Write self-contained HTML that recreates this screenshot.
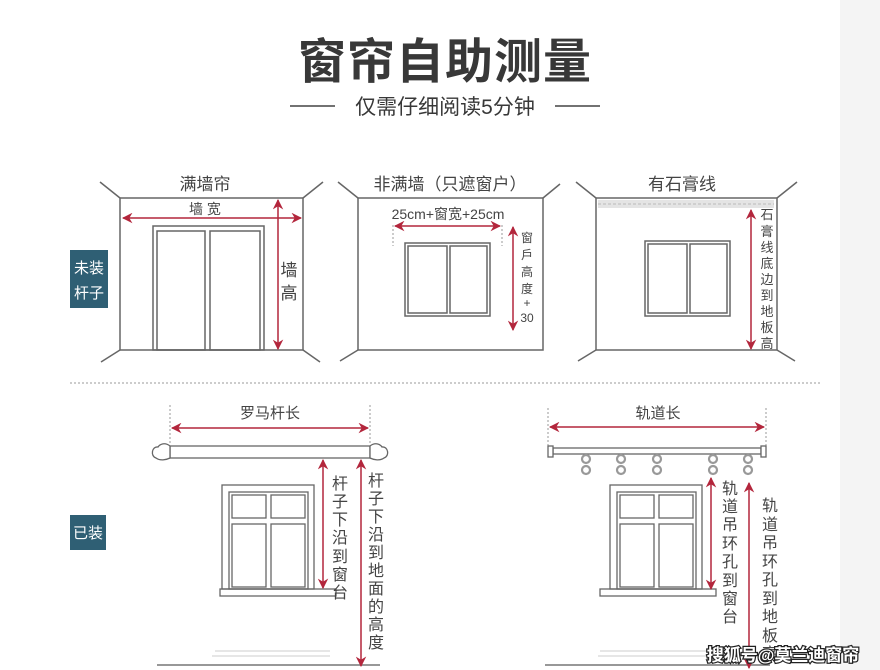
<!DOCTYPE html>
<html><head><meta charset="utf-8"><style>
html,body{margin:0;padding:0;background:#fff;}
svg{display:block;font-family:"Liberation Sans","Noto Sans CJK SC",sans-serif;}
</style></head><body>
<svg width="880" height="670" viewBox="0 0 880 670" xmlns="http://www.w3.org/2000/svg">
<defs>
<marker id="ah" viewBox="0 0 10 10" refX="9" refY="5" markerWidth="7" markerHeight="7" orient="auto-start-reverse"><path d="M0,0 L10,5 L0,10 L3,5 z" fill="#b3263c"/></marker>
</defs>
<rect x="0" y="0" width="880" height="670" fill="#fff"/>
<rect x="840" y="0" width="40" height="670" fill="#f4f4f4"/>

<!-- title -->
<text x="445" y="78" font-size="48" font-weight="bold" fill="#383838" text-anchor="middle" letter-spacing="1">窗帘自助测量</text>
<line x1="290" y1="106" x2="335" y2="106" stroke="#444" stroke-width="1.5"/>
<line x1="555" y1="106" x2="600" y2="106" stroke="#444" stroke-width="1.5"/>
<text x="445" y="114" font-size="21" fill="#383838" text-anchor="middle">仅需仔细阅读5分钟</text>

<g stroke="#666" stroke-width="1.5" fill="none">
<!-- panel 1 -->
<rect x="120" y="198" width="183" height="152"/>
<line x1="100" y1="182" x2="120" y2="198"/><line x1="303" y1="198" x2="323" y2="182"/>
<line x1="120" y1="350" x2="101" y2="362"/><line x1="303" y1="350" x2="320" y2="362"/>
<rect x="153" y="226" width="111" height="124"/>
<rect x="157" y="231" width="48" height="119"/>
<rect x="210" y="231" width="50" height="119"/>
<!-- panel 2 -->
<rect x="358" y="198" width="185" height="152"/>
<line x1="338" y1="182" x2="358" y2="198"/><line x1="543" y1="198" x2="560" y2="184"/>
<line x1="358" y1="350" x2="340" y2="361"/>
<rect x="405" y="243" width="85" height="73"/>
<rect x="408" y="246" width="39" height="67"/>
<rect x="450" y="246" width="37" height="67"/>
<!-- panel 3 -->
<rect x="596" y="198" width="181" height="152"/>
<line x1="576" y1="182" x2="596" y2="198"/><line x1="777" y1="198" x2="797" y2="182"/>
<line x1="596" y1="350" x2="578" y2="361"/><line x1="777" y1="350" x2="795" y2="361"/>
<rect x="645" y="241" width="85" height="75"/>
<rect x="648" y="244" width="39" height="69"/>
<rect x="690" y="244" width="37" height="69"/>
</g>
<rect x="598" y="200" width="176" height="8" fill="#e4e4e4"/>
<line x1="598" y1="204" x2="774" y2="204" stroke="#c8c8c8" stroke-width="1.5" stroke-dasharray="3,2"/>

<!-- labels top -->
<g font-size="17" fill="#444" text-anchor="middle">
<text x="205" y="190">满墙帘</text>
<text x="450" y="190">非满墙（只遮窗户）</text>
<text x="682" y="190">有石膏线</text>
</g>
<text x="205" y="214" font-size="14" fill="#444" text-anchor="middle">墙 宽</text>
<text x="448" y="219" font-size="14" fill="#444" text-anchor="middle">25cm+窗宽+25cm</text>
<g font-size="17" fill="#444" text-anchor="middle"><text x="289" y="276">墙</text><text x="289" y="299">高</text></g>
<g font-size="12" fill="#444" text-anchor="middle">
<text x="527" y="242">窗</text><text x="527" y="259">戶</text><text x="527" y="276">高</text><text x="527" y="293">度</text><text x="527" y="307">+</text><text x="527" y="322">30</text>
</g>
<g font-size="13" fill="#444" text-anchor="middle">
<text x="767" y="219">石</text><text x="767" y="236">膏</text><text x="767" y="252">线</text><text x="767" y="268">底</text><text x="767" y="284">边</text><text x="767" y="300">到</text><text x="767" y="316">地</text><text x="767" y="332">板</text><text x="767" y="348">高</text>
</g>
<g stroke="#999" stroke-width="1" stroke-dasharray="2,2">
<line x1="393" y1="225" x2="393" y2="246"/><line x1="502" y1="225" x2="502" y2="246"/>
</g>

<!-- red arrows top -->
<g stroke="#b3263c" stroke-width="1.5" marker-start="url(#ah)" marker-end="url(#ah)">
<line x1="123" y1="218" x2="301" y2="218"/>
<line x1="278" y1="200" x2="278" y2="349"/>
<line x1="395" y1="226" x2="500" y2="226"/>
<line x1="513" y1="227" x2="513" y2="330"/>
<line x1="751" y1="210" x2="751" y2="349"/>
</g>

<!-- side boxes -->
<rect x="70" y="250" width="38" height="58" fill="#2f5f74"/>
<text x="89" y="273" font-size="15" fill="#fff" text-anchor="middle">未装</text>
<text x="89" y="298" font-size="15" fill="#fff" text-anchor="middle">杆子</text>
<rect x="70" y="515" width="36" height="35" fill="#2f5f74"/>
<text x="88" y="538" font-size="15" fill="#fff" text-anchor="middle">已装</text>

<!-- separator -->
<line x1="70" y1="383" x2="820" y2="383" stroke="#bbb" stroke-width="1.5" stroke-dasharray="2,2"/>

<!-- bottom left -->
<g stroke="#999" stroke-width="1" stroke-dasharray="2,2">
<line x1="170" y1="405" x2="170" y2="445"/><line x1="370" y1="405" x2="370" y2="445"/>
<line x1="548" y1="408" x2="548" y2="446"/><line x1="766" y1="408" x2="766" y2="446"/>
</g>
<text x="270" y="418" font-size="15" fill="#444" text-anchor="middle">罗马杆长</text>
<text x="658" y="418" font-size="15" fill="#444" text-anchor="middle">轨道长</text>

<g stroke="#666" stroke-width="1.3" fill="none">
<rect x="170" y="446" width="200" height="12" fill="#fff"/>
<path d="M170,446 C165,442 160,444 158,447 C152,446 150,456 156,458 C160,461 166,460 170,458 Z" fill="#fff"/>
<path d="M370,446 C375,442 380,444 382,447 C388,446 390,456 384,458 C380,461 374,460 370,458 Z" fill="#fff"/>
<!-- windows -->
<g id="win">
<rect x="610" y="485" width="92" height="104"/>
<rect x="617" y="492" width="79" height="97"/>
<rect x="620" y="495" width="34" height="23"/>
<rect x="659" y="495" width="34" height="23"/>
<rect x="620" y="524" width="34" height="63"/>
<rect x="659" y="524" width="34" height="63"/>
<rect x="600" y="589" width="116" height="7"/>
</g>
<g transform="translate(-388,0)">
<rect x="610" y="485" width="92" height="104"/>
<rect x="617" y="492" width="79" height="97"/>
<rect x="620" y="495" width="34" height="23"/>
<rect x="659" y="495" width="34" height="23"/>
<rect x="620" y="524" width="34" height="63"/>
<rect x="659" y="524" width="34" height="63"/>
<rect x="608" y="589" width="116" height="7"/>
</g>
<!-- track -->
<rect x="553" y="448" width="208" height="6" fill="#fff"/>
<rect x="548" y="446" width="5" height="11" fill="#fff"/>
<rect x="761" y="446" width="5" height="11" fill="#fff"/>
</g>
<g stroke="#999" stroke-width="2.2" fill="none">
<circle cx="586" cy="459" r="4"/><circle cx="586" cy="470" r="4"/>
<circle cx="621" cy="459" r="4"/><circle cx="621" cy="470" r="4"/>
<circle cx="657" cy="459" r="4"/><circle cx="657" cy="470" r="4"/>
<circle cx="713" cy="459" r="4"/><circle cx="713" cy="470" r="4"/>
<circle cx="748" cy="459" r="4"/><circle cx="748" cy="470" r="4"/>
</g>
<!-- floors -->
<line x1="157" y1="665" x2="380" y2="665" stroke="#777" stroke-width="1.5"/>
<line x1="545" y1="665" x2="770" y2="665" stroke="#777" stroke-width="1.5"/>
<g stroke="#ddd" stroke-width="1.5" fill="none">
<line x1="215" y1="651" x2="330" y2="651"/><line x1="212" y1="656" x2="330" y2="656"/>
<line x1="600" y1="651" x2="715" y2="651"/><line x1="598" y1="656" x2="715" y2="656"/>
</g>

<g stroke="#b3263c" stroke-width="1.5" marker-start="url(#ah)" marker-end="url(#ah)">
<line x1="172" y1="428" x2="368" y2="428"/>
<line x1="550" y1="427" x2="764" y2="427"/>
<line x1="323" y1="460" x2="323" y2="588"/>
<line x1="361" y1="460" x2="361" y2="666"/>
<line x1="711" y1="478" x2="711" y2="589"/>
<line x1="749" y1="483" x2="749" y2="668"/>
</g>

<g font-size="16" fill="#444" text-anchor="middle">
<text x="340" y="489">杆</text><text x="340" y="507">子</text><text x="340" y="525">下</text><text x="340" y="543">沿</text><text x="340" y="562">到</text><text x="340" y="580">窗</text><text x="340" y="598">台</text>
<text x="376" y="486">杆</text><text x="376" y="504">子</text><text x="376" y="522">下</text><text x="376" y="540">沿</text><text x="376" y="558">到</text><text x="376" y="576">地</text><text x="376" y="594">面</text><text x="376" y="612">的</text><text x="376" y="630">高</text><text x="376" y="648">度</text>
<text x="730" y="494">轨</text><text x="730" y="512">道</text><text x="730" y="530">吊</text><text x="730" y="549">环</text><text x="730" y="567">孔</text><text x="730" y="586">到</text><text x="730" y="604">窗</text><text x="730" y="622">台</text>
<text x="770" y="511">轨</text><text x="770" y="530">道</text><text x="770" y="548">吊</text><text x="770" y="567">环</text><text x="770" y="585">孔</text><text x="770" y="604">到</text><text x="770" y="622">地</text><text x="770" y="641">板</text><text x="770" y="659">高</text>
</g>

<text x="783" y="661" font-size="17" font-weight="bold" fill="#fff" stroke="#222" stroke-width="2.5" paint-order="stroke" text-anchor="middle">搜狐号@莫兰迪窗帘</text>
</svg>
</body></html>
